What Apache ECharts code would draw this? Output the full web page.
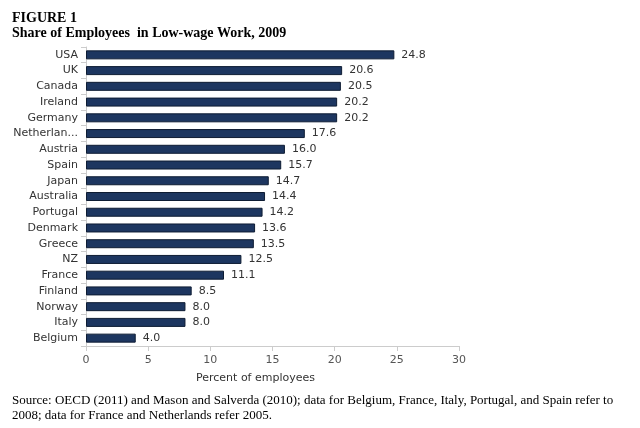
<!DOCTYPE html>
<html>
<head>
<meta charset="utf-8">
<script src="https://cdn.jsdelivr.net/npm/echarts@6/dist/echarts.min.js"></script>
<style>
  html, body { margin: 0; padding: 0; background: #fff; }
  #main { width: 640px; height: 428px; }
</style>
</head>
<body>
<div id="main"></div>
<script>
// data, top to bottom as drawn
var countries = ["USA", "UK", "Canada", "Ireland", "Germany", "Netherlands", "Austria", "Spain",
  "Japan", "Australia", "Portugal", "Denmark", "Greece", "NZ", "France", "Finland", "Norway", "Italy", "Belgium"];
var shares = [24.8, 20.6, 20.5, 20.2, 20.2, 17.6, 16.0, 15.7, 14.7, 14.4, 14.2, 13.6, 13.5, 12.5, 11.1, 8.5, 8.0, 8.0, 4.0];
var xTicks = [0, 30, 5];

var chart = echarts.init(document.getElementById("main"));

var option = {
  animation: false,
  backgroundColor: "#fff",
  title: [
    {
      text: "FIGURE 1\nShare of Employees  in Low-wage Work, 2009",
      left: 7, top: 6,
      textStyle: { fontFamily: "Liberation Serif", fontSize: 14, fontWeight: "bold", color: "#000", lineHeight: 15 }
    },
    {
      text: "Source: OECD (2011) and Mason and Salverda (2010); data for Belgium, France, Italy, Portugal, and Spain refer to\n2008; data for France and Netherlands refer 2005.",
      left: 7, top: 388,
      textStyle: { fontFamily: "Liberation Serif", fontSize: 13, fontWeight: "normal", color: "#000", lineHeight: 15 }
    }
  ],
  grid: { left: 86, right: 181, top: 47, bottom: 82 },
  xAxis: {
    type: "value",
    min: xTicks[0], max: xTicks[1], interval: xTicks[2],
    name: "Percent of employees",
    nameLocation: "middle",
    nameGap: 27,
    nameTextStyle: { fontFamily: "DejaVu Sans", fontSize: 11, color: "#333", padding: [0, 34, 0, 0] },
    axisLine: { show: true, lineStyle: { color: "#ccc" } },
    axisTick: { show: true, length: 5, lineStyle: { color: "#ccc" } },
    splitLine: { show: false },
    axisLabel: { fontFamily: "DejaVu Sans", fontSize: 11, color: "#555", margin: 9 }
  },
  yAxis: {
    type: "category",
    inverse: true,
    data: countries,
    axisLine: { show: true, lineStyle: { color: "#ccc" } },
    axisTick: { show: true, length: 5, lineStyle: { color: "#ccc" } },
    axisLabel: {
      fontFamily: "DejaVu Sans", fontSize: 11, color: "#333", margin: 8,
      width: 67, overflow: "truncate", ellipsis: "..."
    }
  },
  series: [
    {
      type: "bar",
      data: shares,
      barWidth: 9,
      itemStyle: { color: "#1d3660", borderColor: "#0e1c33", borderWidth: 1 },
      label: {
        show: true, position: "right", distance: 7,
        formatter: function (p) { return p.value.toFixed(1); },
        fontFamily: "DejaVu Sans", fontSize: 11, color: "#333"
      }
    }
  ]
};

chart.setOption(option);
</script>
</body>
</html>
